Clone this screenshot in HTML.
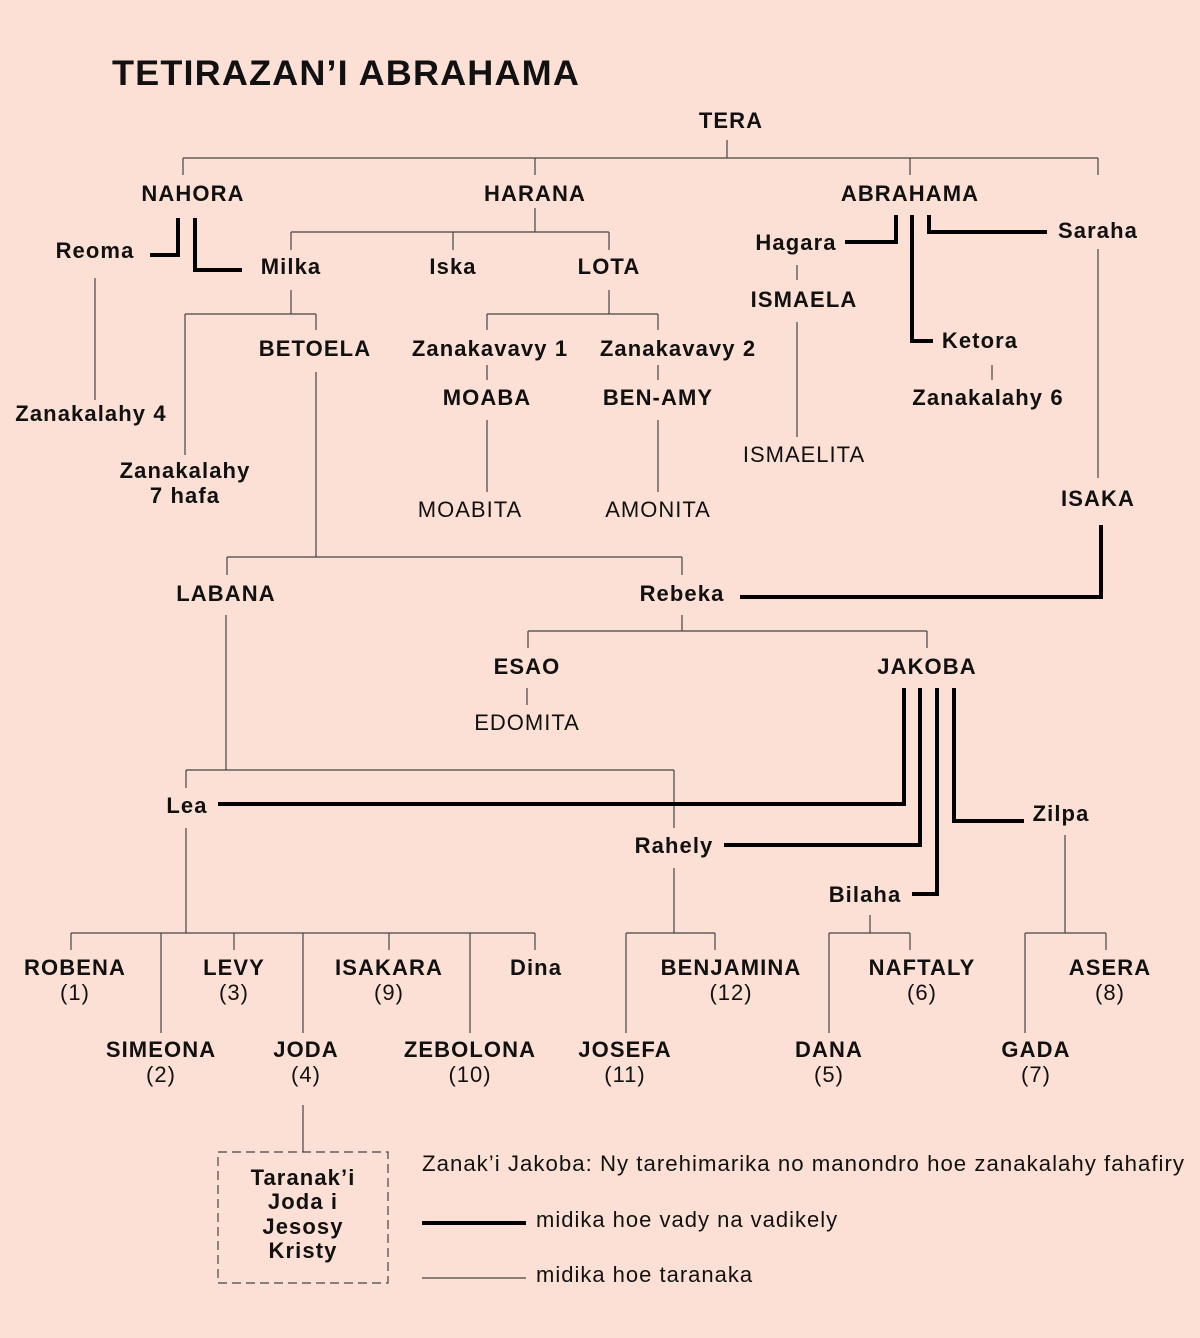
<!DOCTYPE html>
<html><head><meta charset="utf-8"><style>
html,body{margin:0;padding:0;background:#fde0d5;}
svg{display:block}
text{font-family:"Liberation Sans",Arial,sans-serif;font-size:22px;fill:#111;}
.b{font-weight:bold;letter-spacing:1.1px}
.r{letter-spacing:1px}
.t{stroke:#444;stroke-width:1.2;fill:none}
.k{stroke:#000;stroke-width:4;fill:none}
</style></head><body>
<svg width="1200" height="1338" viewBox="0 0 1200 1338" xmlns="http://www.w3.org/2000/svg">
<rect width="1200" height="1338" fill="#fde0d5"/>
<text x="112" y="85" class="b" style="font-size:35px" textLength="468" lengthAdjust="spacingAndGlyphs">TETIRAZAN’I ABRAHAMA</text>
<g text-anchor="middle" class="b">
<text x="731" y="128">TERA</text>
<text x="193" y="201">NAHORA</text>
<text x="535" y="201">HARANA</text>
<text x="910" y="201">ABRAHAMA</text>
<text x="95" y="258">Reoma</text>
<text x="291" y="274">Milka</text>
<text x="453" y="274">Iska</text>
<text x="609" y="274">LOTA</text>
<text x="796" y="250">Hagara</text>
<text x="1098" y="238">Saraha</text>
<text x="804" y="307">ISMAELA</text>
<text x="980" y="348">Ketora</text>
<text x="988" y="405">Zanakalahy 6</text>
<text x="91" y="421">Zanakalahy 4</text>
<text x="315" y="356">BETOELA</text>
<text x="490" y="356">Zanakavavy 1</text>
<text x="678" y="356">Zanakavavy 2</text>
<text x="487" y="405">MOABA</text>
<text x="658" y="405">BEN-AMY</text>
<text x="185" y="478">Zanakalahy</text>
<text x="185" y="503">7 hafa</text>
<text x="1098" y="506">ISAKA</text>
<text x="226" y="601">LABANA</text>
<text x="682" y="601">Rebeka</text>
<text x="527" y="674">ESAO</text>
<text x="927" y="674">JAKOBA</text>
<text x="187" y="813">Lea</text>
<text x="674" y="853">Rahely</text>
<text x="1061" y="821">Zilpa</text>
<text x="865" y="902">Bilaha</text>
<text x="75" y="975">ROBENA</text>
<text x="234" y="975">LEVY</text>
<text x="389" y="975">ISAKARA</text>
<text x="536" y="975">Dina</text>
<text x="731" y="975">BENJAMINA</text>
<text x="922" y="975">NAFTALY</text>
<text x="1110" y="975">ASERA</text>
<text x="161" y="1057">SIMEONA</text>
<text x="306" y="1057">JODA</text>
<text x="470" y="1057">ZEBOLONA</text>
<text x="625" y="1057">JOSEFA</text>
<text x="829" y="1057">DANA</text>
<text x="1036" y="1057">GADA</text>
<text x="303" y="1185">Taranak’i</text>
<text x="303" y="1209">Joda i</text>
<text x="303" y="1234">Jesosy</text>
<text x="303" y="1258">Kristy</text>
</g>
<g text-anchor="middle" class="r">
<text x="804" y="462">ISMAELITA</text>
<text x="470" y="517">MOABITA</text>
<text x="658" y="517">AMONITA</text>
<text x="527" y="730">EDOMITA</text>
<text x="75" y="1000">(1)</text>
<text x="234" y="1000">(3)</text>
<text x="389" y="1000">(9)</text>
<text x="731" y="1000">(12)</text>
<text x="922" y="1000">(6)</text>
<text x="1110" y="1000">(8)</text>
<text x="161" y="1082">(2)</text>
<text x="306" y="1082">(4)</text>
<text x="470" y="1082">(10)</text>
<text x="625" y="1082">(11)</text>
<text x="829" y="1082">(5)</text>
<text x="1036" y="1082">(7)</text>
</g>
<text x="422" y="1171" class="r" textLength="763" lengthAdjust="spacingAndGlyphs">Zanak’i Jakoba: Ny tarehimarika no manondro hoe zanakalahy fahafiry</text>
<text x="536" y="1227" class="r">midika hoe vady na vadikely</text>
<text x="536" y="1282" class="r">midika hoe taranaka</text>
<g class="t">
<path d="M727 140V158M183 158H1098M183 158V175M535 158V175M910 158V175M1098 158V175"/>
<path d="M535 208V232M291 232H609M291 232V250M453 232V250M609 232V250"/>
<path d="M95 278V400"/>
<path d="M291 290V314M185 314H316M316 314V330M185 314V455"/>
<path d="M609 290V314M487 314H658M487 314V330M658 314V330"/>
<path d="M487 365V380M658 365V380M487 420V492M658 420V492"/>
<path d="M797 265V280M797 322V437M992 365V380"/>
<path d="M1098 249V478"/>
<path d="M316 372V557M227 557H682M227 557V575M682 557V575"/>
<path d="M682 615V631M528 631H927M528 631V648M927 631V648M527 688V705"/>
<path d="M226 615V770M186 770H674M186 770V788M674 770V828"/>
<path d="M186 828V933M71 933H535M71 933V950M234 933V950M389 933V950M535 933V950M161 933V1033M303 933V1033M470 933V1033"/>
<path d="M674 868V933M626 933H715M715 933V950M626 933V1033"/>
<path d="M870 915V933M829 933H910M910 933V950M829 933V1033"/>
<path d="M1065 835V933M1025 933H1106M1106 933V950M1025 933V1033"/>
<path d="M303 1105V1152"/>
<path d="M422 1278H526"/>
<rect x="218" y="1152" width="170" height="131" stroke-dasharray="9,5"/>
</g>
<g class="k">
<path d="M178 218V255H150"/>
<path d="M195 218V270H242"/>
<path d="M896 215V242H845"/>
<path d="M912 215V341H933"/>
<path d="M929 215V232H1047"/>
<path d="M1101 525V597H740"/>
<path d="M904 688V804H218"/>
<path d="M920 688V845H724"/>
<path d="M937 688V894H912"/>
<path d="M954 688V821H1024"/>
<path d="M422 1223H526"/>
</g>
</svg>
</body></html>
